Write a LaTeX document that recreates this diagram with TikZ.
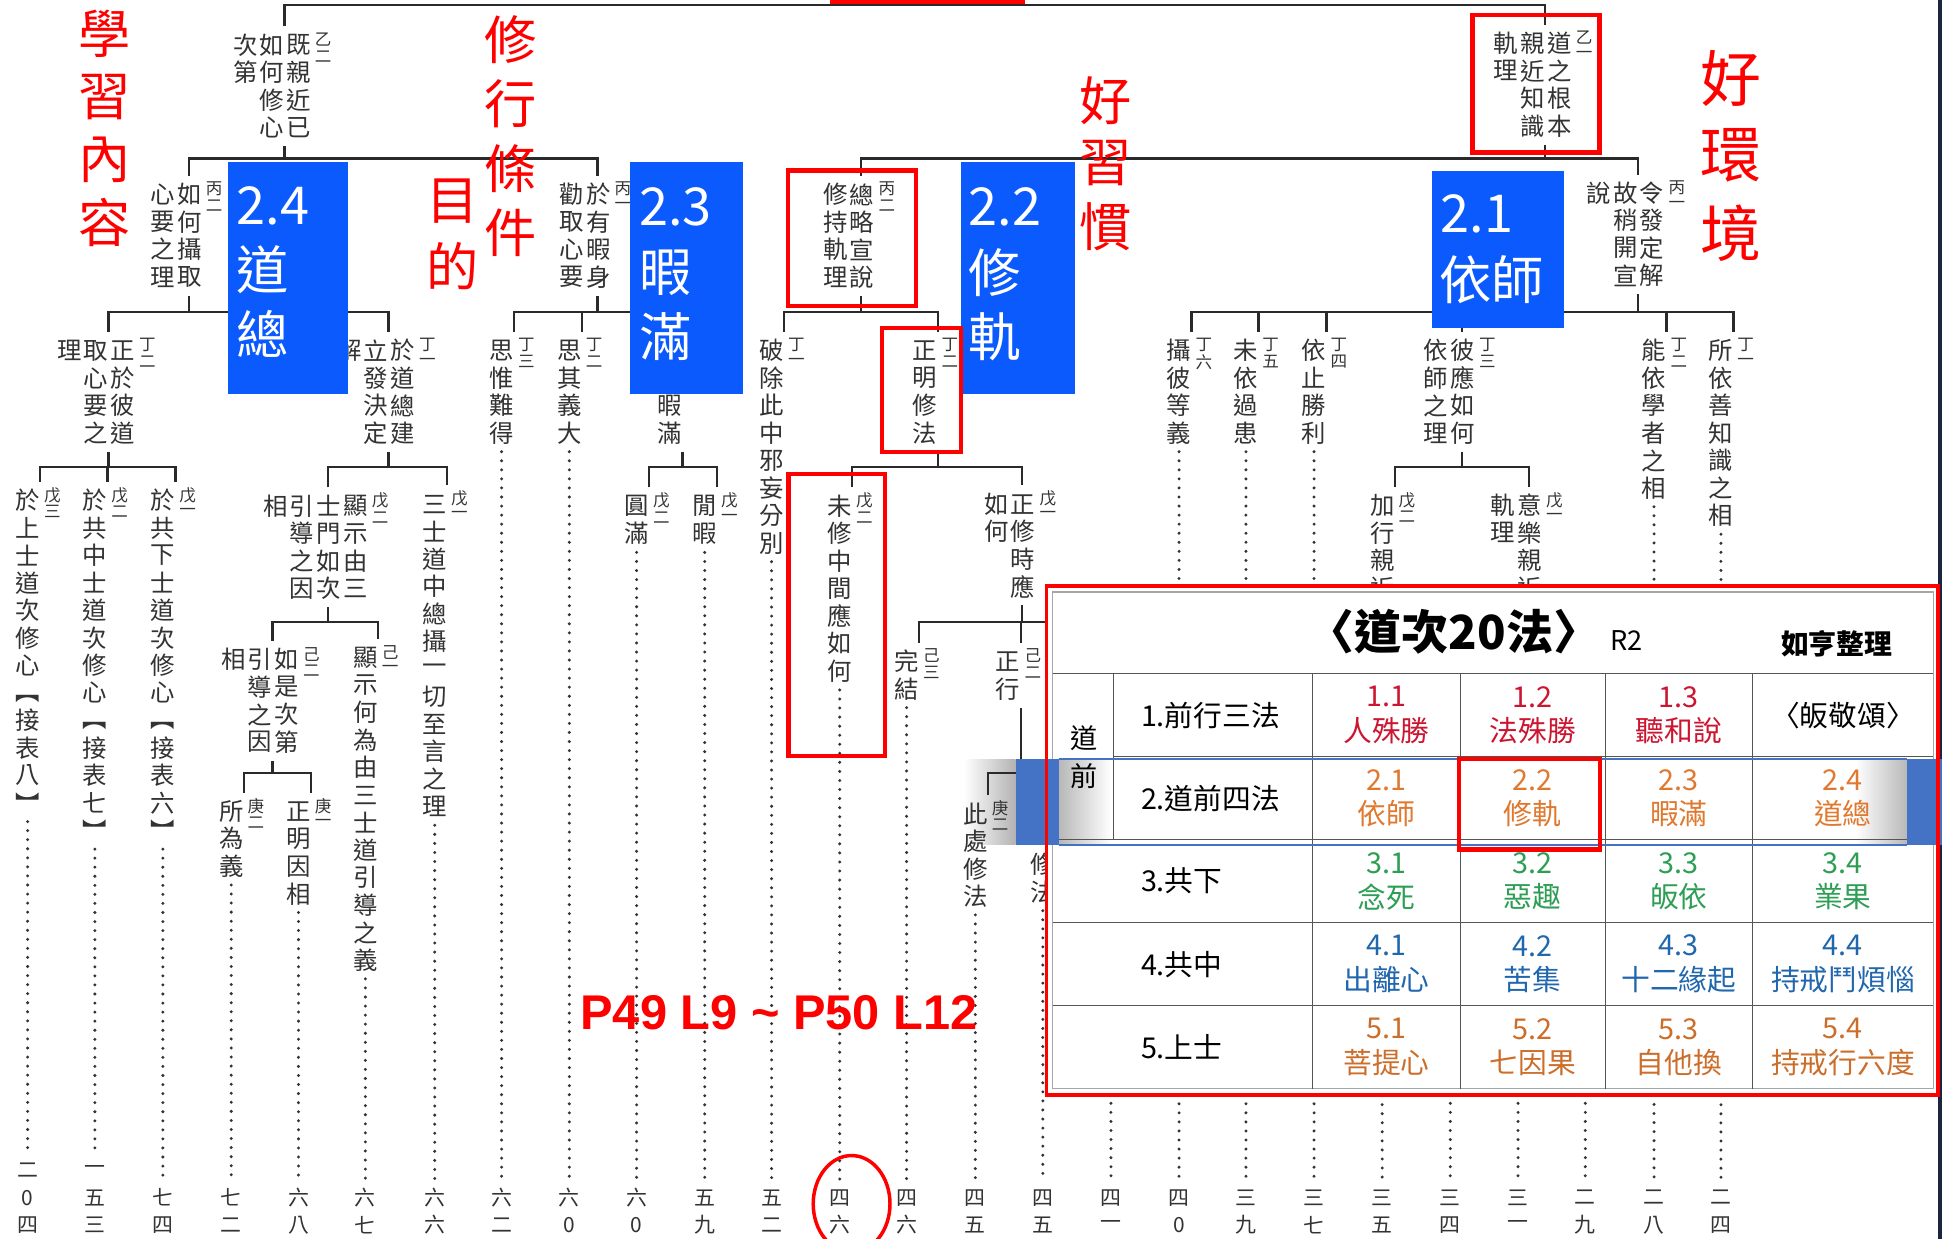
\documentclass[tikz,border=0pt]{standalone}
\usepackage{fontspec}
\setmainfont{Noto Sans CJK TC}
\newfontfamily\lsans{Liberation Sans}
\newdimen\U \U=0.7113pt
\definecolor{treegray}{HTML}{333333}
\definecolor{treeline}{HTML}{2A2A2A}
\definecolor{boxblue}{HTML}{0A5AFE}
\definecolor{bandblue}{HTML}{4472C4}
\definecolor{rowred}{HTML}{CC1530}
\definecolor{roworange}{HTML}{E0792F}
\definecolor{rowgreen}{HTML}{2E9E55}
\definecolor{rowblue}{HTML}{2167AE}
\definecolor{rowbrown}{HTML}{CC6E2A}
\definecolor{gridgray}{HTML}{555555}
\definecolor{navy}{HTML}{1C2540}

\ExplSyntaxOn
\dim_new:N \l_vt_cw_dim
\dim_new:N \l_vt_lh_dim
\tl_new:N \l_vt_cols_tl
\cs_new_protected:Npn \vt_col:n #1
  {
    \vtop
      {
        \offinterlineskip
        \vskip 0pt
        \tl_map_inline:nn {#1}
          {
            \hbox_to_wd:nn { \l_vt_cw_dim }
              { \hss \vbox_to_ht:nn { \l_vt_lh_dim } { \vss \hbox:n {##1} \vss } \hss }
          }
      }
  }
\cs_new_protected:Npn \vt_cols:n #1
  {
    \tl_clear:N \l_vt_cols_tl
    \clist_map_inline:nn {#1} { \tl_put_left:Nn \l_vt_cols_tl { \vt_col:n {##1} } }
    \l_vt_cols_tl
  }
\NewDocumentCommand \vtx { m m }
  {
    \hbox:n
      {
        \dim_set:Nn \l_vt_cw_dim { 21.5\U }
        \dim_set:Nn \l_vt_lh_dim { 22.2\U }
        \fontsize{14pt}{16pt}\selectfont
        \vt_cols:n {#2}
        \skip_horizontal:n { 2.25\U }
        \dim_set:Nn \l_vt_cw_dim { 14\U }
        \dim_set:Nn \l_vt_lh_dim { 13.5\U }
        \fontsize{9.5pt}{11pt}\selectfont
        \vt_col:n {#1}
        \skip_horizontal:n { 4\U }
      }
  }
\NewDocumentCommand \vtg { m m m }
  {
    \hbox:n
      {
        \dim_set:Nn \l_vt_cw_dim { #1\U }
        \dim_set:Nn \l_vt_lh_dim { #2\U }
        \vt_col:n {#3}
      }
  }
\ExplSyntaxOff
% opening bracket set a little lower in its slot
\newcommand\obr{\vbox{\vskip 9\U\hbox{︻}}}

\newcommand\grp[4]{\draw[tline] (#1.south) -- (#1.south |- #2);
  \draw[tline] (#3.north) |- (#2 -| #4.north) -- (#4.north);}
\newcommand\drp[2]{\draw[tline] (#1.north) -- (#1.north |- #2);}
\newcommand\dts[2]{\draw[dline] (#1.south -| #2.north) -- (#2.north);}

\begin{document}
\begin{tikzpicture}[x=0.025cm,y=-0.025cm,
  tline/.style={draw=treeline, line width=1.3pt},
  dline/.style={draw=treegray, line width=1.9pt, line cap=round, dash pattern=on 0pt off 5.2pt},
  tnode/.style={inner sep=0pt, outer xsep=0pt, outer ysep=0.1cm, text=treegray, anchor=north east},
  nnode/.style={inner sep=0pt, outer xsep=0pt, outer ysep=0.1cm, text=treegray, anchor=north, font=\fontsize{12pt}{14pt}\selectfont},
  hid/.style={inner sep=0pt, outer sep=0pt},
  rnote/.style={inner sep=0pt, outer sep=0pt, text=red, anchor=north},
  rbox/.style={draw=red, line width=2.5pt},
  bt/.style={inner sep=0pt, text=white, anchor=west, font=\fontsize{30pt}{36pt}\selectfont},
  cell/.style={inner sep=0pt, align=center, font=\fontsize{16.5pt}{20pt}\selectfont},
  rowlab/.style={inner sep=0pt, anchor=west, font=\fontsize{16.5pt}{20pt}\selectfont},
  grid/.style={draw=gridgray, line width=0.7pt}
]
\fill[white] (0,0) rectangle (1568,1000);
\useasboundingbox (0,0) rectangle (1568,1000);
\fill[navy] (1565,0) rectangle (1568,1000);

% shadow left of the highlighted band
\shade[left color=white, right color=black!30] (778,613) rectangle (820,682);

% ---------- tree nodes ----------
\node[tnode] (A2) at (272,21.2) {\vtx{乙二}{既親近已,如何修心,次第}};
\node[tnode] (A1) at (1290,19.9) {\vtx{乙一}{道之根本,親近知識,軌理}};
\node[tnode] (B2) at (184,141.9) {\vtx{丙二}{如何攝取,心要之理}};
\node[tnode] (B1) at (514,141.9) {\vtx{丙一}{於有暇身,勸取心要}};
\node[tnode] (B3) at (727,141.9) {\vtx{丙二}{總略宣說,修持軌理}};
\node[tnode] (B4) at (1365,140.9) {\vtx{丙一}{令發定解,故稍開宣,說}};
\node[tnode] (C2) at (130,267.9) {\vtx{丁二}{正於彼道,取心要之,理}};
\node[tnode] (C1) at (356,267.9) {\vtx{丁一}{於道總建,立發決定,解}};
\node[tnode] (H3) at (436,267.9) {\vtx{丁三}{思惟難得}};
\node[tnode] (H2) at (490.7,267.9) {\vtx{丁二}{思其義大}};
\node[tnode] (H1) at (572,267.9) {\vtx{{\phantom{丁}}{\phantom{一}}}{{\phantom{思}}{\phantom{惟}}暇滿}};
\node[tnode] (J1) at (654,267.9) {\vtx{丁一}{破除此中邪妄分別}};
\node[tnode] (J2) at (778,267.9) {\vtx{丁二}{正明修法}};
\node[tnode] (N6) at (983,267.9) {\vtx{丁六}{攝彼等義}};
\node[tnode] (N5) at (1037,267.9) {\vtx{丁五}{未依過患}};
\node[tnode] (N4) at (1092,267.9) {\vtx{丁四}{依止勝利}};
\node[tnode] (N3) at (1212,267.9) {\vtx{丁三}{彼應如何,依師之理}};
\node[tnode] (N2) at (1366.5,267.9) {\vtx{丁二}{能依學者之相}};
\node[tnode] (N1) at (1420.5,267.9) {\vtx{丁一}{所依善知識之相}};
\node[tnode] (D3) at (53.3,388.9) {\vtx{戊三}{於上士道次修心{\obr}接表八︼}};
\node[tnode] (D2) at (107.6,388.9) {\vtx{戊二}{於共中士道次修心{\obr}接表七︼}};
\node[tnode] (D1) at (162.5,388.9) {\vtx{戊一}{於共下士道次修心{\obr}接表六︼}};
\node[tnode] (E2) at (318,393.5) {\vtx{戊二}{顯示由三,士門如次,引導之因,相}};
\node[tnode] (E1) at (382,391.9) {\vtx{戊一}{三士道中總攝一切至言之理}};
\node[tnode] (I2) at (545,393.6) {\vtx{戊二}{圓滿}};
\node[tnode] (I1) at (600,393.6) {\vtx{戊一}{閒暇}};
\node[tnode] (K2) at (709,393.6) {\vtx{戊二}{未修中間應如何}};
\node[tnode] (K1) at (857,391.9) {\vtx{戊一}{正修時應,如何}};
\node[tnode] (O2) at (1147,392.9) {\vtx{戊二}{加行親近}};
\node[tnode] (O1) at (1266,392.9) {\vtx{戊一}{意樂親近,軌理}};
\node[tnode] (F2) at (262.5,517.5) {\vtx{己二}{如是次第,引導之因,相}};
\node[tnode] (F1) at (326,515.9) {\vtx{己一}{顯示何為由三士道引導之義}};
\node[tnode] (L3) at (763,518.9) {\vtx{己三}{完結}};
\node[tnode] (L2) at (845,518.9) {\vtx{己二}{正行}};
\node[hid] (L1) at (900,519) {};
\node[tnode] (G2) at (217.7,639.9) {\vtx{庚二}{所為義}};
\node[tnode] (G1) at (272,639.9) {\vtx{庚一}{正明因相}};
\node[tnode] (M2) at (818.5,641.9) {\vtx{庚二}{此處修法}};
\node[tnode] (M1) at (873,682.9) {\vtx{{\phantom{庚}}{\phantom{一}}}{修法}};

% ---------- connectors ----------
\coordinate (yTop) at (0,4);
\coordinate (b128) at (0,128);
\coordinate (b252) at (0,252);
\coordinate (b377) at (0,377);
\coordinate (b502) at (0,502);
\coordinate (b624) at (0,624);
\coordinate (root) at (749,-20);
\draw[tline] (A2.north) |- (yTop -| A1.north) -- (A1.north);
\draw[tline] (root) -- (root |- yTop);
\grp{A2}{b128}{B2}{B1}
\grp{B2}{b252}{C2}{C1}
\grp{C2}{b377}{D3}{D1} \drp{D2}{b377}
\grp{C1}{b377}{E2}{E1}
\grp{E2}{b502}{F2}{F1}
\grp{F2}{b624}{G2}{G1}
\grp{B1}{b252}{H3}{H1} \drp{H2}{b252}
\grp{H1}{b377}{I2}{I1}
\grp{A1}{b128}{B3}{B4}
\grp{B3}{b252}{J1}{J2}
\grp{J2}{b377}{K2}{K1}
\grp{K1}{b502}{L3}{L1} \drp{L2}{b502}
\grp{L2}{b624}{M2}{M1}
\grp{B4}{b252}{N6}{N1} \drp{N5}{b252} \drp{N4}{b252} \drp{N3}{b252} \drp{N2}{b252}
\grp{N3}{b377}{O2}{O1}

% ---------- page numbers ----------
\node[nnode] (n1) at (22.3,930) {\vtg{18}{22}{二0四}};
\node[nnode] (n2) at (76.6,930) {\vtg{18}{22}{一五三}};
\node[nnode] (n3) at (131.5,952) {\vtg{18}{22}{七四}};
\node[nnode] (n4) at (186.7,952) {\vtg{18}{22}{七二}};
\node[nnode] (n5) at (241,952) {\vtg{18}{22}{六八}};
\node[nnode] (n6) at (295,952) {\vtg{18}{22}{六七}};
\node[nnode] (n7) at (351,952) {\vtg{18}{22}{六六}};
\node[nnode] (n8) at (405,952) {\vtg{18}{22}{六二}};
\node[nnode] (n9) at (459.7,952) {\vtg{18}{22}{六0}};
\node[nnode] (n10) at (514,952) {\vtg{18}{22}{六0}};
\node[nnode] (n11) at (569,952) {\vtg{18}{22}{五九}};
\node[nnode] (n12) at (623,952) {\vtg{18}{22}{五二}};
\node[nnode] (n13) at (678,952) {\vtg{18}{22}{四六}};
\node[nnode] (n14) at (732,952) {\vtg{18}{22}{四六}};
\node[nnode] (n15) at (787.5,952) {\vtg{18}{22}{四五}};
\node[nnode] (n16) at (842,952) {\vtg{18}{22}{四五}};
\node[nnode] (n17) at (897,952) {\vtg{18}{22}{四一}};
\node[nnode] (n18) at (952,952) {\vtg{18}{22}{四0}};
\node[nnode] (n19) at (1006,952) {\vtg{18}{22}{三九}};
\node[nnode] (n20) at (1061,952) {\vtg{18}{22}{三七}};
\node[nnode] (n21) at (1116,952) {\vtg{18}{22}{三五}};
\node[nnode] (n22) at (1171,952) {\vtg{18}{22}{三四}};
\node[nnode] (n23) at (1225.7,952) {\vtg{18}{22}{三一}};
\node[nnode] (n24) at (1280,952) {\vtg{18}{22}{二九}};
\node[nnode] (n25) at (1335.5,952) {\vtg{18}{22}{二八}};
\node[nnode] (n26) at (1389.5,952) {\vtg{18}{22}{二四}};
\node[hid] (h17) at (897,700) {};
\node[hid] (h22) at (1171,700) {};
\node[hid] (h23) at (1225.7,700) {};
\node[hid] (h24) at (1280,700) {};

\dts{D3}{n1} \dts{D2}{n2} \dts{D1}{n3} \dts{G2}{n4} \dts{G1}{n5}
\dts{F1}{n6} \dts{E1}{n7} \dts{H3}{n8} \dts{H2}{n9} \dts{I2}{n10}
\dts{I1}{n11} \dts{J1}{n12} \dts{K2}{n13} \dts{L3}{n14} \dts{M2}{n15}
\dts{M1}{n16} \dts{h17}{n17} \dts{N6}{n18} \dts{N5}{n19} \dts{N4}{n20}
\dts{O2}{n21} \dts{h22}{n22} \dts{h23}{n23} \dts{h24}{n24} \dts{N2}{n25} \dts{N1}{n26}

% ---------- blue boxes ----------
\fill[boxblue] (184,131) rectangle (281,318);
\node[bt] (t24a) at (191,166.5) {2.4};
\node[bt] (t24b) at (191,218) {道};
\node[bt] (t24c) at (191,269.5) {總};
\fill[boxblue] (509,131) rectangle (600,318);
\node[bt] (t23a) at (516,167) {2.3};
\node[bt] (t23b) at (516,220) {暇};
\node[bt] (t23c) at (516,271.5) {滿};
\fill[boxblue] (776,131) rectangle (868,318);
\node[bt] (t22a) at (782,167) {2.2};
\node[bt] (t22b) at (782,220) {修};
\node[bt] (t22c) at (782,271.5) {軌};
\fill[boxblue] (1156,138) rectangle (1263,265);
\node[bt] (t21a) at (1163,172.5) {2.1};
\node[bt] (t21b) at (1162,226) {依師};

% ---------- red notes ----------
\node[rnote, font=\fontsize{30pt}{30pt}\selectfont] (r1) at (84.5,1.5) {\vtg{45}{51}{學習內容}};
\node[rnote, font=\fontsize{30pt}{30pt}\selectfont] (r2) at (412,6) {\vtg{45}{52}{修行條件}};
\node[rnote, font=\fontsize{30pt}{30pt}\selectfont] (r3) at (365.5,136) {\vtg{45}{52.5}{目的}};
\node[rnote, font=\fontsize{30pt}{30pt}\selectfont] (r4) at (893,55.5) {\vtg{45}{51}{好習慣}};
\node[rnote, font=\fontsize{35pt}{35pt}\selectfont] (r5) at (1397.5,32) {\vtg{52}{62.5}{好環境}};

% ---------- red frames on tree ----------
\draw[rbox] (672,-20) rectangle (826,1.5);
\draw[rbox] (636,137.8) rectangle (739.6,247);
\draw[rbox] (712,265) rectangle (775.7,364.7);
\draw[rbox] (636.5,382.7) rectangle (714.6,610.5);
\draw[rbox] (1189,12) rectangle (1291.5,123);
\draw[red, line width=2pt] (687.6,972) ellipse [x radius=31, y radius=39];
\node[inner sep=0pt, text=red, font=\lsans\bfseries\fontsize{28pt}{30pt}\selectfont] (pg) at (629,817.5) {P49 L9 \textasciitilde{} P50 L12};

% ---------- table ----------
\fill[white] (845,473) rectangle (1565,884);
\draw[gray!70, line width=0.8pt] (850,478) rectangle (1561,879);
\shade[left color=black!28, right color=white] (855,613) rectangle (897,682);
\shade[left color=white, right color=black!28] (1498,613) rectangle (1540,682);
\draw[grid] (850,544) -- (1561,544);
\draw[grid] (899,611) -- (1561,611);
\draw[grid] (850,678) -- (1561,678);
\draw[grid] (850,745) -- (1561,745);
\draw[grid] (850,812) -- (1561,812);
\draw[grid] (899,544) -- (899,678);
\draw[grid] (1060,544) -- (1060,879);
\draw[grid] (1179,544) -- (1179,879);
\draw[grid] (1296,544) -- (1296,879);
\draw[grid] (1415,544) -- (1415,879);

\node[inner sep=0pt, font=\bfseries\fontsize{27pt}{30pt}\selectfont] (title) at (1174,510) {〈道次20法〉};
\node[inner sep=0pt, font=\fontsize{15.6pt}{18pt}\selectfont] (ttr) at (1313,517) {R2};
\node[inner sep=0pt, font=\bfseries\fontsize{16pt}{18pt}\selectfont] (tby) at (1483,519.5) {如亨整理};
\node[inner sep=0pt, font=\fontsize{15.6pt}{18pt}\selectfont] (td1) at (875,596) {道};
\node[inner sep=0pt, font=\fontsize{15.6pt}{18pt}\selectfont] (td2) at (875,627) {前};

\node[rowlab] (rl1) at (921,577.5) {1.前行三法};
\node[rowlab] (rl2) at (921,644.5) {2.道前四法};
\node[rowlab] (rl3) at (921,711.5) {3.共下};
\node[rowlab] (rl4) at (921,778.5) {4.共中};
\node[rowlab] (rl5) at (921,845.5) {5.上士};

\node[cell, text=rowred] (c11) at (1119.5,577.5) {1.1\\人殊勝};
\node[cell, text=rowred] (c12) at (1237.5,577.5) {1.2\\法殊勝};
\node[cell, text=rowred] (c13) at (1355.5,577.5) {1.3\\聽和說};
\node[cell] (c14) at (1488,577.5) {〈皈敬頌〉};
\node[cell, text=roworange] (c21) at (1119.5,644.5) {2.1\\依師};
\node[cell, text=roworange] (c22) at (1237.5,644.5) {2.2\\修軌};
\node[cell, text=roworange] (c23) at (1355.5,644.5) {2.3\\暇滿};
\node[cell, text=roworange] (c24) at (1488,644.5) {2.4\\道總};
\node[cell, text=rowgreen] (c31) at (1119.5,711.5) {3.1\\念死};
\node[cell, text=rowgreen] (c32) at (1237.5,711.5) {3.2\\惡趣};
\node[cell, text=rowgreen] (c33) at (1355.5,711.5) {3.3\\皈依};
\node[cell, text=rowgreen] (c34) at (1488,711.5) {3.4\\業果};
\node[cell, text=rowblue] (c41) at (1119.5,778.5) {4.1\\出離心};
\node[cell, text=rowblue] (c42) at (1237.5,778.5) {4.2\\苦集};
\node[cell, text=rowblue] (c43) at (1355.5,778.5) {4.3\\十二緣起};
\node[cell, text=rowblue] (c44) at (1488,778.5) {4.4\\持戒鬥煩惱};
\node[cell, text=rowbrown] (c51) at (1119.5,845.5) {5.1\\菩提心};
\node[cell, text=rowbrown] (c52) at (1237.5,845.5) {5.2\\七因果};
\node[cell, text=rowbrown] (c53) at (1355.5,845.5) {5.3\\自他換};
\node[cell, text=rowbrown] (c54) at (1488,845.5) {5.4\\持戒行六度};

% highlight band
\draw[bandblue, line width=1.2pt] (855,613) -- (1540,613);
\draw[bandblue, line width=1.2pt] (855,682) -- (1540,682);
\fill[bandblue] (820,612.5) rectangle (855,682.5);
\fill[bandblue] (1540,612.5) rectangle (1568,682.5);

% red frames on table
\draw[red, line width=2.2pt] (845,473) rectangle (1564.5,884);
\draw[rbox] (1178,613) rectangle (1292,686);
\end{tikzpicture}
\end{document}
